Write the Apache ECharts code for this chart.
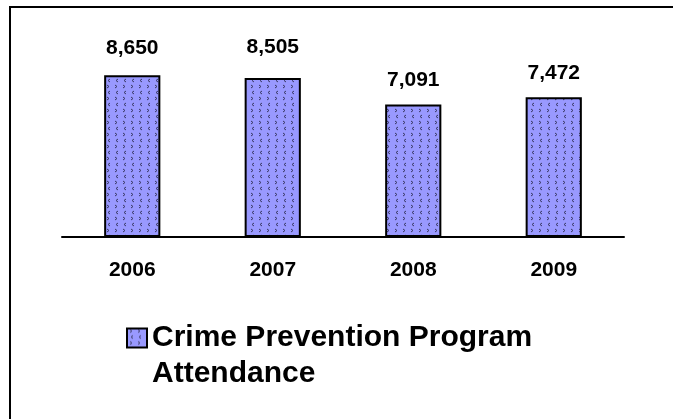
<!DOCTYPE html>
<html>
<head>
<meta charset="utf-8">
<script src="https://cdn.jsdelivr.net/npm/echarts@6/dist/echarts.min.js"></script>
<style>
  html, body { margin: 0; padding: 0; background: #fff; }
  #main { width: 673px; height: 419px; }
</style>
</head>
<body>
<div id="main"></div>
<script>
// chart data
const years = ["2006", "2007", "2008", "2009"];
const attendance = [8650, 8505, 7091, 7472];
const seriesName = "Crime Prevention Program Attendance";
// label gap above each bar (px), the original places them unevenly
const labelGaps = [17, 20, 14, 14];

// hatched fill like the old office chart
function makePattern() {
  const c = document.createElement("canvas");
  c.width = 8;
  c.height = 12;
  const ctx = c.getContext("2d");
  ctx.fillStyle = "#9999ff";
  ctx.fillRect(0, 0, 8, 12);
  ctx.strokeStyle = "#3a3a66";
  ctx.lineWidth = 1;
  ctx.beginPath();
  // ">" mark
  ctx.moveTo(3, 1);
  ctx.lineTo(5, 2.5);
  ctx.lineTo(3, 4);
  // "<" mark
  ctx.moveTo(6, 7);
  ctx.lineTo(4, 8.5);
  ctx.lineTo(6, 10);
  ctx.stroke();
  return c;
}
const pattern = { image: makePattern(), repeat: "repeat" };

const chart = echarts.init(document.getElementById("main"));
const labelFont = {
  color: "#000",
  fontFamily: "Liberation Sans, Arial, sans-serif",
  fontWeight: "bold",
  fontSize: 21,
};

const option = {
  animation: false,
  grid: { left: 62, right: 49, top: 50, bottom: 182 },
  xAxis: {
    type: "category",
    data: years,
    axisLine: { lineStyle: { color: "#000", width: 2 } },
    axisTick: { show: false },
    axisLabel: Object.assign({ margin: 23 }, labelFont),
  },
  yAxis: {
    type: "value",
    min: 0,
    max: 10000,
    show: false,
    splitLine: { show: false },
  },
  legend: {
    left: 126,
    top: 284,
    padding: 0,
    icon: "rect",
    itemWidth: 20,
    itemHeight: 19,
    itemStyle: { color: pattern, borderColor: "#000", borderWidth: 2 },
    // empty first line keeps the icon level with "Crime ..."
    formatter: () => "\nCrime Prevention Program\nAttendance",
    textStyle: {
      color: "#000",
      fontFamily: "Liberation Sans, Arial, sans-serif",
      fontWeight: "bold",
      fontSize: 30,
      lineHeight: 36,
    },
  },
  graphic: [
    {
      type: "polyline",
      shape: { points: [[10, 419], [10, 7], [673, 7]] },
      style: { stroke: "#000", lineWidth: 2, fill: null },
    },
  ],
  series: [
    {
      name: seriesName,
      type: "bar",
      barWidth: "40%",
      data: attendance.map((v, i) => ({
        value: v,
        label: { distance: labelGaps[i] },
      })),
      itemStyle: { color: pattern, borderColor: "#000", borderWidth: 2 },
      label: Object.assign(
        {
          show: true,
          position: "top",
          formatter: (p) => p.value.toLocaleString("en-US"),
        },
        labelFont
      ),
    },
  ],
};
chart.setOption(option);
</script>
</body>
</html>
